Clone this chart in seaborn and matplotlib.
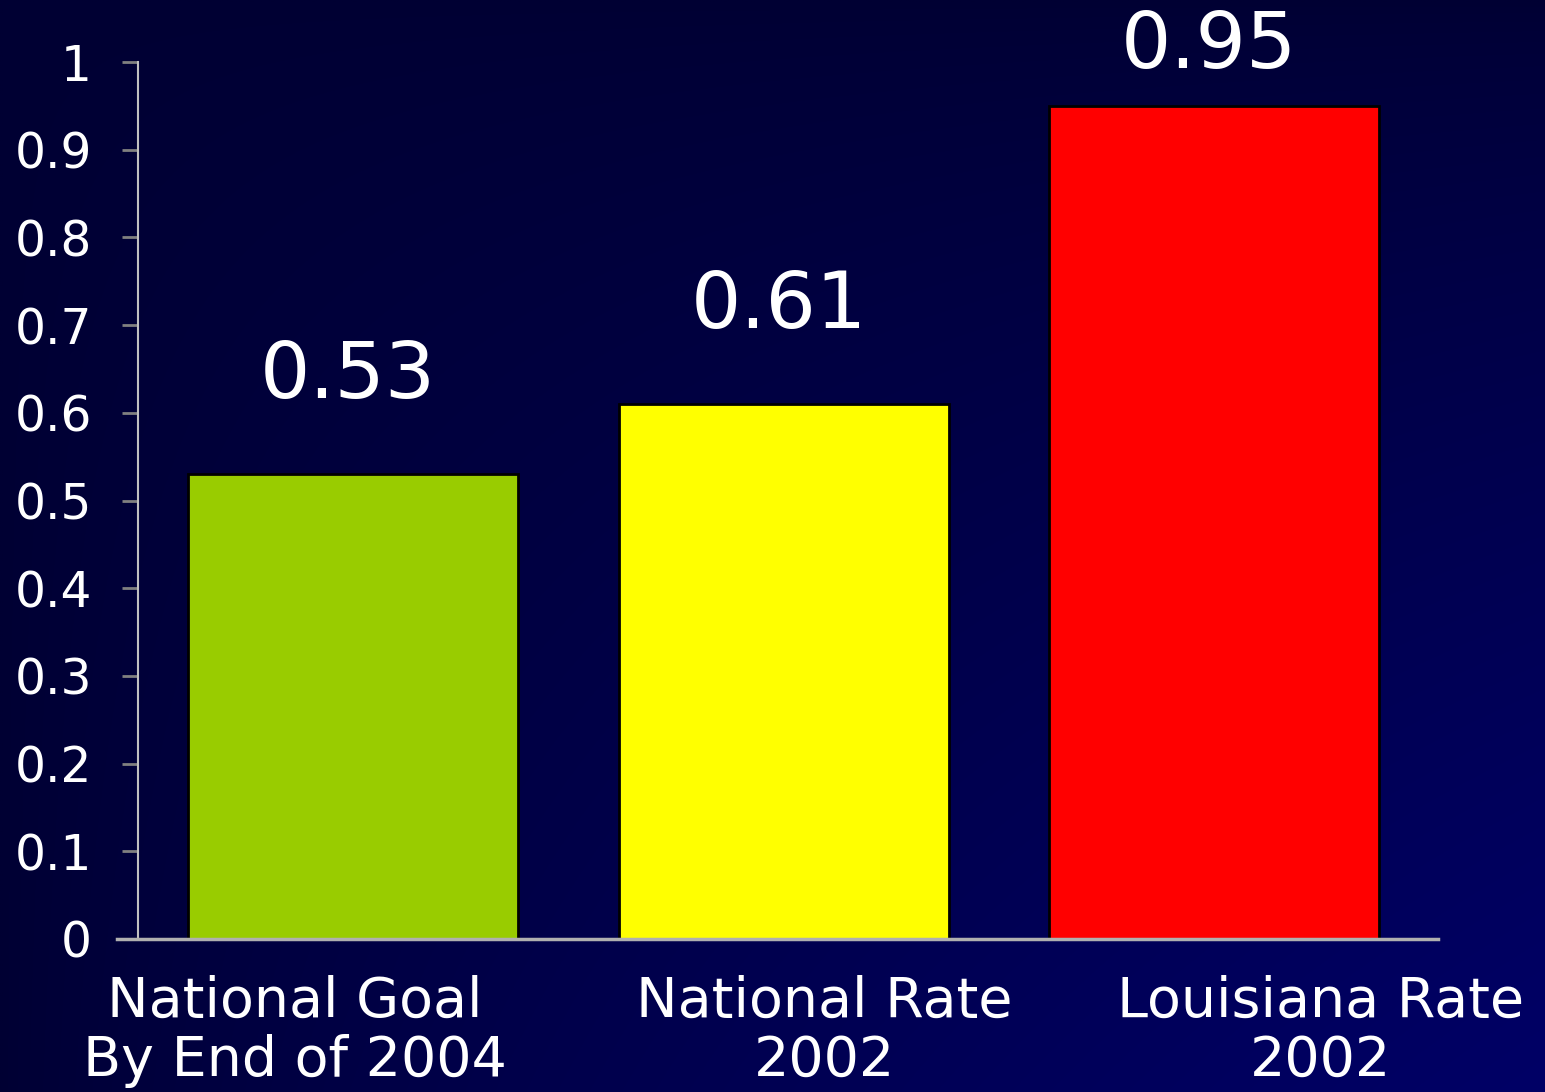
import numpy as np
import pandas as pd
import matplotlib
matplotlib.use("Agg")
import matplotlib.pyplot as plt
import matplotlib.transforms as mtransforms
import seaborn as sns

categories = ["National Goal\nBy End of 2004", "National Rate\n2002", "Louisiana Rate\n2002"]
values = [0.53, 0.61, 0.95]
bar_colors = ["#99CC00", "#FFFF00", "#FF0000"]
yticks = [0, 0.1, 0.2, 0.3, 0.4, 0.5, 0.6, 0.7, 0.8, 0.9, 1]
ytick_labels = ["0", "0.1", "0.2", "0.3", "0.4", "0.5", "0.6", "0.7", "0.8", "0.9", "1"]

sns.set_theme(style="white")
plt.rcParams["font.family"] = ["DejaVu Sans"]

W, H, DPI = 1545, 1092, 100
fig = plt.figure(figsize=(W / DPI, H / DPI), dpi=DPI)

# background gradient
bg = fig.add_axes([0, 0, 1, 1], zorder=-10)
xx, yy = np.meshgrid(np.linspace(0, 1, 300), np.linspace(0, 1, 220))
f = (xx * yy) ** 0.7
blue = (0x33 + (0x66 - 0x33) * f) / 255.0
img = np.zeros((220, 300, 3))
img[..., 2] = blue
bg.imshow(img, aspect="auto", extent=[0, 1, 1, 0], interpolation="bilinear")
bg.set_axis_off()

left, right = 138 / W, 1438 / W
bottom, top = (H - 939) / H, (H - 62) / H
ax = fig.add_axes([left, bottom, right - left, top - bottom])
ax.patch.set_alpha(0)

df = pd.DataFrame({"cat": categories, "val": values})
sns.barplot(data=df, x="cat", y="val", hue="cat", palette=bar_colors, legend=False,
            width=0.767, edgecolor="black", linewidth=2, ax=ax, saturation=1)

ax.set_xlim(-0.5, 2.52)
ax.set_ylim(0, 1)
ax.set_xlabel("")
ax.set_ylabel("")
ax.set_yticks(yticks)
ax.set_yticklabels(ytick_labels)

for s in ["top", "right"]:
    ax.spines[s].set_visible(False)
ax.spines["left"].set_color("#C0C0C0")
ax.spines["left"].set_linewidth(1.5)
ax.spines["bottom"].set_color("#B0B0B0")
ax.spines["bottom"].set_linewidth(2.5)
ax.spines["bottom"].set_bounds(-0.5 - 21 / 430, 2.52)

ax.tick_params(axis="y", which="major", length=11.5, width=2, color="#808080",
               labelsize=35, labelcolor="white", pad=21.6, left=True)
ax.tick_params(axis="x", length=0, labelsize=40, labelcolor="white", pad=26)

# x tick label offsets (px)
offsets = [-58, 41, 106]
for lab, off in zip(ax.get_xticklabels(), offsets):
    lab.set_linespacing(1.12)
    lab.set_transform(lab.get_transform() + mtransforms.ScaledTranslation(off / DPI, 0, fig.dpi_scale_trans))

fig.canvas.draw()
for i, v in enumerate(values):
    ypx = ax.transData.transform((i, v))[1]
    off_px = min(76, (H - 68) - ypx)
    ax.annotate(f"{v:.2f}", xy=(i, v), xytext=(-5 * 72 / DPI, off_px * 72 / DPI),
                textcoords="offset points", ha="center", va="baseline",
                fontsize=57, color="white", annotation_clip=False)

fig.savefig("out.png", dpi=DPI)
